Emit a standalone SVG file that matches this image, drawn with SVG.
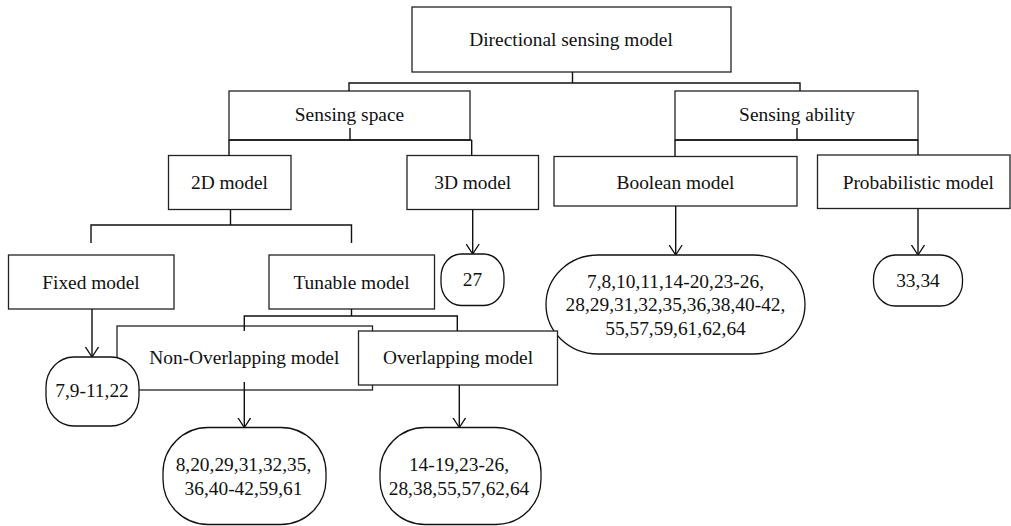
<svg xmlns="http://www.w3.org/2000/svg" width="1011" height="526" viewBox="0 0 1011 526">
<defs>
<style>
.box{fill:#fff;stroke:#222;stroke-width:1.3}
.rnd{fill:#fff;stroke:#111;stroke-width:1.3}
.t{font-family:"Liberation Serif","Times New Roman",serif;font-size:19.4px;fill:#111;text-anchor:middle}
.c{fill:none;stroke:#111;stroke-width:1.4}
</style>
<marker id="ah" viewBox="0 0 10 14" refX="10" refY="7" markerWidth="10" markerHeight="14" markerUnits="userSpaceOnUse" orient="auto">
<path d="M0,0.5 L10,7 L0,13.5" fill="none" stroke="#111" stroke-width="1.3"/>
</marker>
</defs>
<rect width="1011" height="526" fill="#fff"/>

<g id="root"><rect class="box" x="412" y="7" width="319" height="65"/><text class="t" x="571" y="46">Directional sensing model</text></g>
<g id="sensing-space"><rect class="box" x="229" y="91" width="241" height="49"/><text class="t" x="349.5" y="121">Sensing space</text></g>
<g id="sensing-ability"><rect class="box" x="675" y="91" width="243" height="49"/><text class="t" x="797" y="121">Sensing ability</text></g>
<g id="model-2d"><rect class="box" x="168.5" y="155.5" width="122.5" height="54"/><text class="t" x="229.5" y="188.5">2D model</text></g>
<g id="model-3d"><rect class="box" x="407" y="155.5" width="131.5" height="54"/><text class="t" x="472.7" y="188.5">3D model</text></g>
<g id="boolean"><rect class="box" x="554" y="156.5" width="243" height="49.5"/><text class="t" x="675.5" y="188.5">Boolean model</text></g>
<g id="probabilistic"><rect class="box" x="817.5" y="155" width="192.5" height="53.5"/><text class="t" x="918.3" y="188.5">Probabilistic model</text></g>
<g id="fixed"><rect class="box" x="8.5" y="255" width="165.5" height="54"/><text class="t" x="91" y="288.5">Fixed model</text></g>
<g id="tunable"><rect class="box" x="269" y="255" width="165.5" height="54"/><text class="t" x="351.5" y="288.5">Tunable model</text></g>
<g id="ref-27"><rect class="rnd" x="441" y="254" width="63" height="51.5" rx="20" ry="23"/><text class="t" x="472.5" y="285.5">27</text></g>
<g id="ref-boolean"><rect class="rnd" x="546" y="255" width="259" height="99" rx="52" ry="50"/>
<text class="t" x="675.5" y="287.5">7,8,10,11,14-20,23-26,</text>
<text class="t" x="675.5" y="311">28,29,31,32,35,36,38,40-42,</text>
<text class="t" x="675.5" y="334.5">55,57,59,61,62,64</text></g>
<g id="ref-prob"><rect class="rnd" x="873.5" y="255" width="89" height="51" rx="22" ry="24"/><text class="t" x="918" y="286.5">33,34</text></g>
<g id="non-overlapping"><rect class="box" x="117" y="326" width="255.5" height="64"/><text class="t" x="244.3" y="364">Non-Overlapping model</text></g>
<g id="overlapping"><rect class="box" x="358.5" y="331" width="199" height="54"/><text class="t" x="458" y="364">Overlapping model</text></g>
<g id="ref-fixed"><rect class="rnd" x="46" y="357" width="93" height="69" rx="28" ry="30"/><text class="t" x="92" y="397">7,9-11,22</text></g>
<g id="ref-nonoverlap"><rect class="rnd" x="163" y="427.5" width="163" height="97" rx="45" ry="45"/>
<text class="t" x="243.5" y="471">8,20,29,31,32,35,</text>
<text class="t" x="243.5" y="494.5">36,40-42,59,61</text></g>
<g id="ref-overlap"><rect class="rnd" x="380" y="427.5" width="161" height="97" rx="45" ry="45"/>
<text class="t" x="459" y="471">14-19,23-26,</text>
<text class="t" x="459" y="494.5">28,38,55,57,62,64</text></g>

<g id="connectors">
<path class="c" d="M572.5,72 V83 M349,91 V83 H800 V91"/>
<path class="c" d="M350,128 V140 M229,140 H471.7 M229,140 V155.5 M471.7,140 V155.5"/>
<path class="c" d="M797,128 V140 M675,140 H918 M675,140 V156.5 M918,140 V155"/>
<path class="c" d="M230.5,209.5 V225 M91,243 V225 H351.5 V243"/>
<path class="c" d="M351.5,309 V316 M244.3,331 V316 H457.3 V331"/>
<path class="c" d="M472.7,209.5 V254" marker-end="url(#ah)"/>
<path class="c" d="M675.7,206 V255" marker-end="url(#ah)"/>
<path class="c" d="M918,208.5 V255" marker-end="url(#ah)"/>
<path class="c" d="M92,309 V357" marker-end="url(#ah)"/>
<path class="c" d="M244.3,382 V427.5" marker-end="url(#ah)"/>
<path class="c" d="M459.3,385 V427.5" marker-end="url(#ah)"/>
</g>
</svg>
